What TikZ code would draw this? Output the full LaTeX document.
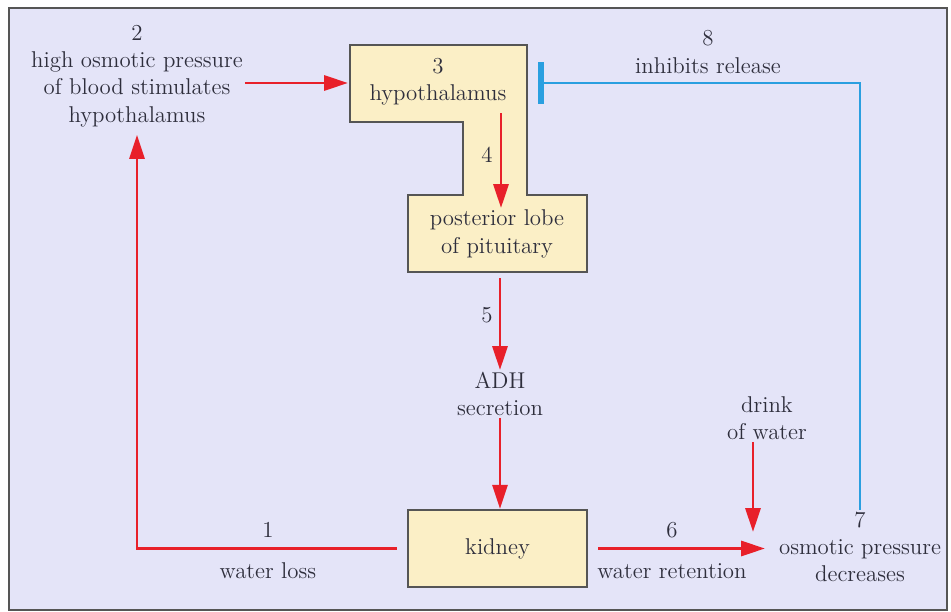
\documentclass[tikz,border=0pt]{standalone}
\usetikzlibrary{arrows.meta,positioning}
\definecolor{bgpanel}{HTML}{E4E4F8}
\definecolor{boxfill}{HTML}{FBEFC6}
\definecolor{boxline}{HTML}{555555}
\definecolor{flowred}{HTML}{E8202A}
\definecolor{inhblue}{HTML}{2A9FE0}
\definecolor{labelgray}{HTML}{2E2E3C}
\tikzset{
  lbl/.style={text=labelgray, font=\rmfamily\fontsize{13}{15.5}\selectfont, align=center, inner sep=1pt},
  organ/.style={draw=boxline, fill=boxfill, line width=1.3pt},
  redflow/.style={draw=flowred, line width=1.7pt, -{Triangle[length=4.8mm,width=3mm]}},
  inhibit/.style={draw=inhblue, line width=1.4pt}
}

\begin{document}
\begin{tikzpicture}[x=0.02cm,y=-0.02cm]
    \useasboundingbox (0,0) rectangle (951,612);
    % panel
    \draw[fill=bgpanel, draw=boxline, line width=0.8pt] (9,8) rectangle (947,610);

    % hypothalamus + posterior lobe outline
    \draw[organ] (350,45) -- (527,45) -- (527,195) -- (587,195) -- (587,272)
        -- (408,272) -- (408,195) -- (463,195) -- (463,122) -- (350,122) -- cycle;
    \coordinate (hypoW) at (348,83);
    \coordinate (neckTop) at (501,113);
    \coordinate (lobeBot) at (500,278);
    \coordinate (mix) at (753,532);
    \coordinate (stopbar) at (541,83);

    \node[lbl] (hypo) at (438,82) {3\\hypothalamus};
    \node[lbl] (lobe) at (497,234) {posterior lobe\\of pituitary};
    \node[organ, minimum width=3.58cm, minimum height=1.54cm, lbl] (kidney) at (497.5,548.5) {kidney};

    \node[lbl] (stim) at (137,76) {2\\high osmotic pressure\\of blood stimulates\\hypothalamus};
    \node[lbl] (adh) at (500,394) {ADH\\secretion};
    \node[lbl] (drink) at (767,418) {drink\\of water};
    \node[lbl] (osmo) at (860,547) {7\\osmotic pressure\\decreases};
    \node[lbl] (inhib) at (708,52) {8\\inhibits release};

    \node[lbl] (n4) at (487,155) {4};
    \node[lbl] (n5) at (487,315) {5};
    \node[lbl] (n1) at (268,530) {1};
    \node[lbl] (loss) at (268,571) {water loss};
    \node[lbl] (n6) at (672,530) {6};
    \node[lbl] (retain) at (672,571) {water retention};

    % red pathway
    \draw[redflow] (stim.east |- hypoW) -- (hypoW);
    \draw[redflow] (neckTop) -- (neckTop |- lobe.north);
    \draw[redflow] (lobeBot) -- (lobeBot |- adh.north);
    \draw[redflow] (adh.south) -- (adh.south |- kidney.north);
    \draw[redflow] ([xshift=-0.2cm]kidney.west) -| ([yshift=-0.12cm]stim.south);
    \draw[redflow] ([xshift=0.2cm]kidney.east) -- (mix |- kidney.east) -- ++(12,0);
    \draw[redflow] (drink.south -| mix) -- (mix);

    % negative feedback
    \draw[inhibit] (osmo.north) |- (stopbar);
    \draw[inhblue, line width=0.12cm] ([yshift=-0.42cm]stopbar) -- ([yshift=0.42cm]stopbar);
\end{tikzpicture}
\end{document}
